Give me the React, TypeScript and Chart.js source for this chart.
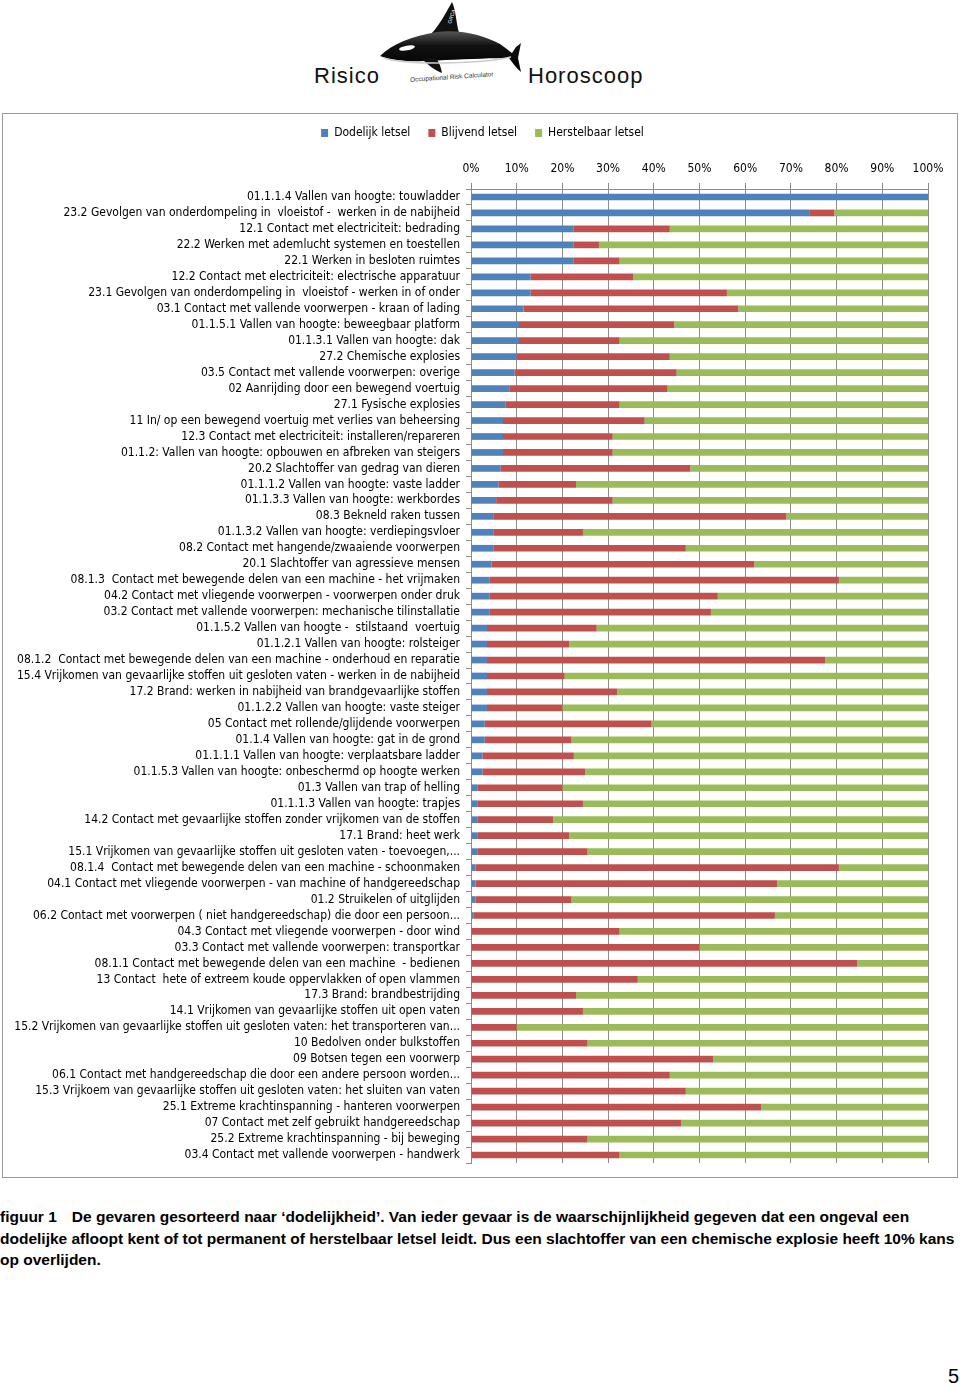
import React, { useEffect, useRef } from "react";
import { Chart, registerables } from "chart.js";
Chart.register(...registerables);

const categories = [
  "01.1.1.4 Vallen van hoogte: touwladder",
  "23.2 Gevolgen van onderdompeling in  vloeistof -  werken in de nabijheid",
  "12.1 Contact met electriciteit: bedrading",
  "22.2 Werken met ademlucht systemen en toestellen",
  "22.1 Werken in besloten ruimtes",
  "12.2 Contact met electriciteit: electrische apparatuur",
  "23.1 Gevolgen van onderdompeling in  vloeistof - werken in of onder",
  "03.1 Contact met vallende voorwerpen - kraan of lading",
  "01.1.5.1 Vallen van hoogte: beweegbaar platform",
  "01.1.3.1 Vallen van hoogte: dak",
  "27.2 Chemische explosies",
  "03.5 Contact met vallende voorwerpen: overige",
  "02 Aanrijding door een bewegend voertuig",
  "27.1 Fysische explosies",
  "11 In/ op een bewegend voertuig met verlies van beheersing",
  "12.3 Contact met electriciteit: installeren/repareren",
  "01.1.2: Vallen van hoogte: opbouwen en afbreken van steigers",
  "20.2 Slachtoffer van gedrag van dieren",
  "01.1.1.2 Vallen van hoogte: vaste ladder",
  "01.1.3.3 Vallen van hoogte: werkbordes",
  "08.3 Bekneld raken tussen",
  "01.1.3.2 Vallen van hoogte: verdiepingsvloer",
  "08.2 Contact met hangende/zwaaiende voorwerpen",
  "20.1 Slachtoffer van agressieve mensen",
  "08.1.3  Contact met bewegende delen van een machine - het vrijmaken",
  "04.2 Contact met vliegende voorwerpen - voorwerpen onder druk",
  "03.2 Contact met vallende voorwerpen: mechanische tilinstallatie",
  "01.1.5.2 Vallen van hoogte -  stilstaand  voertuig",
  "01.1.2.1 Vallen van hoogte: rolsteiger",
  "08.1.2  Contact met bewegende delen van een machine - onderhoud en reparatie",
  "15.4 Vrijkomen van gevaarlijke stoffen uit gesloten vaten - werken in de nabijheid",
  "17.2 Brand: werken in nabijheid van brandgevaarlijke stoffen",
  "01.1.2.2 Vallen van hoogte: vaste steiger",
  "05 Contact met rollende/glijdende voorwerpen",
  "01.1.4 Vallen van hoogte: gat in de grond",
  "01.1.1.1 Vallen van hoogte: verplaatsbare ladder",
  "01.1.5.3 Vallen van hoogte: onbeschermd op hoogte werken",
  "01.3 Vallen van trap of helling",
  "01.1.1.3 Vallen van hoogte: trapjes",
  "14.2 Contact met gevaarlijke stoffen zonder vrijkomen van de stoffen",
  "17.1 Brand: heet werk",
  "15.1 Vrijkomen van gevaarlijke stoffen uit gesloten vaten - toevoegen,...",
  "08.1.4  Contact met bewegende delen van een machine - schoonmaken",
  "04.1 Contact met vliegende voorwerpen - van machine of handgereedschap",
  "01.2 Struikelen of uitglijden",
  "06.2 Contact met voorwerpen ( niet handgereedschap) die door een persoon...",
  "04.3 Contact met vliegende voorwerpen - door wind",
  "03.3 Contact met vallende voorwerpen: transportkar",
  "08.1.1 Contact met bewegende delen van een machine  - bedienen",
  "13 Contact  hete of extreem koude oppervlakken of open vlammen",
  "17.3 Brand: brandbestrijding",
  "14.1 Vrijkomen van gevaarlijke stoffen uit open vaten",
  "15.2 Vrijkomen van gevaarlijke stoffen uit gesloten vaten: het transporteren van...",
  "10 Bedolven onder bulkstoffen",
  "09 Botsen tegen een voorwerp",
  "06.1 Contact met handgereedschap die door een andere persoon worden...",
  "15.3 Vrijkoem van gevaarlijke stoffen uit gesloten vaten: het sluiten van vaten",
  "25.1 Extreme krachtinspanning - hanteren voorwerpen",
  "07 Contact met zelf gebruikt handgereedschap",
  "25.2 Extreme krachtinspanning - bij beweging",
  "03.4 Contact met vallende voorwerpen - handwerk",
];

const dodelijk = [
  100, 74, 22.5, 22.5, 22.5, 13, 13, 11.5, 10.5, 10.5,
  10, 9.5, 8.5, 7.5, 7, 7, 7, 6.5, 6, 5.5,
  5, 5, 5, 4.5, 4, 4, 4, 3.5, 3.5, 3.5,
  3.5, 3.5, 3.5, 3, 3, 2.5, 2.5, 1.5, 1.5, 1.5,
  1.5, 1.5, 1, 1, 1, 0.5, 0, 0, 0, 0,
  0, 0, 0, 0, 0, 0, 0, 0, 0, 0,
  0,
];

const blijvend = [
  0, 5.5, 21, 5.5, 10, 22.5, 43, 47, 34, 22,
  33.5, 35.5, 34.5, 25, 31, 24, 24, 41.5, 17, 25.5,
  64, 19.5, 42, 57.5, 76.5, 50, 48.5, 24, 18, 74,
  17, 28.5, 16.5, 36.5, 19, 20, 22.5, 18.5, 23, 16.5,
  20, 24, 79.5, 66, 21, 66, 32.5, 50, 84.5, 36.5,
  23, 24.5, 10, 25.5, 53, 43.5, 47, 63.5, 46, 25.5,
  32.5,
];

const herstelbaar = [
  0, 20.5, 56.5, 72, 67.5, 64.5, 44, 41.5, 55.5, 67.5,
  56.5, 55, 57, 67.5, 62, 69, 69, 52, 77, 69,
  31, 75.5, 53, 38, 19.5, 46, 47.5, 72.5, 78.5, 22.5,
  79.5, 68, 80, 60.5, 78, 77.5, 75, 80, 75.5, 82,
  78.5, 74.5, 19.5, 33, 78, 33.5, 67.5, 50, 15.5, 63.5,
  77, 75.5, 90, 74.5, 47, 56.5, 53, 36.5, 54, 74.5,
  67.5,
];

const seriesNames = ["Dodelijk letsel", "Blijvend letsel", "Herstelbaar letsel"];
const seriesColors = ["#4F81BD", "#C0504D", "#9BBB59"];
const xTickLabels = ["0%", "10%", "20%", "30%", "40%", "50%", "60%", "70%", "80%", "90%", "100%"];

const NARROW = "'Liberation Sans Narrow', 'DejaVu Sans Condensed', 'Liberation Sans', sans-serif";
const SANS = "'Liberation Sans', Arial, sans-serif";

const legendShift = {
  id: "legendShift",
  afterLayout(chart: any) {
    const l = chart.legend;
    if (l) {
      l.left += 17;
      l.right += 17;
    }
  },
};

function BarChart() {
  const ref = useRef<HTMLCanvasElement | null>(null);
  useEffect(() => {
    if (!ref.current) return;
    const font = { family: NARROW, size: 12 };
    const chart = new Chart(ref.current, {
      type: "bar",
      data: {
        labels: categories,
        datasets: [dodelijk, blijvend, herstelbaar].map((d, i) => ({
          label: seriesNames[i],
          data: d,
          backgroundColor: seriesColors[i],
          borderWidth: 0,
          barPercentage: 0.42,
          categoryPercentage: 1,
        })),
      },
      plugins: [legendShift],
      options: {
        animation: false,
        responsive: false,
        maintainAspectRatio: false,
        indexAxis: "y",
        layout: { padding: { top: -5, right: 29, bottom: 14, left: 0 } },
        plugins: {
          legend: {
            position: "top",
            labels: { boxWidth: 7, boxHeight: 8, padding: 18, color: "#000", font },
          },
          tooltip: { enabled: false },
        },
        scales: {
          x: {
            type: "linear",
            position: "top",
            stacked: true,
            min: 0,
            max: 100,
            ticks: {
              stepSize: 10,
              color: "#000",
              font,
              padding: 7,
              maxRotation: 0,
              callback: (_v: any, i: number) => xTickLabels[i],
            },
            grid: { color: "#8c8c8c", tickLength: 6, lineWidth: 1 },
            border: { color: "#8c8c8c" },
            afterFit: (s: any) => {
              s.height = 40;
            },
          },
          y: {
            type: "category",
            stacked: true,
            ticks: { autoSkip: false, color: "#000", font, padding: 6 },
            grid: { drawOnChartArea: false, offset: true, tickLength: 5, color: "#8c8c8c" },
            border: { color: "#8c8c8c" },
            afterFit: (s: any) => {
              s.width = 468;
            },
          },
        },
      } as any,
    });
    return () => chart.destroy();
  }, []);
  return <canvas ref={ref} width={954} height={1063} style={{ display: "block" }} />;
}

function Orca() {
  return (
    <svg width={960} height={100} style={{ position: "absolute", left: 0, top: 0 }}>
      <defs>
        <linearGradient id="orcaBack" x1="0" y1="0" x2="0" y2="1">
          <stop offset="0" stopColor="#555" />
          <stop offset="0.35" stopColor="#111" />
          <stop offset="1" stopColor="#000" />
        </linearGradient>
      </defs>
      <path d="M431,34 C440,25 446,12 452,2 C456,10 456,22 459,33 Z" fill="#111" />
      <text x={0} y={0} fontSize={5} fontFamily={SANS} fill="#fff" transform="translate(451 24) rotate(-72)">
        ORCA
      </text>
      <path
        d="M380,56 C392,44 412,36 437,32 C462,29 485,36 500,44 C506,48 510,52 512,53 L516,47 C518,45 520,44 521,43 L518,58 L521,72 C516,68 512,62 509,58 C495,58 470,59 445,60 C420,62 395,62 380,56 Z"
        fill="url(#orcaBack)"
      />
      <path d="M421,58 C427,64 434,70 442,73 C441,67 439,62 436,58 Z" fill="#111" />
      <ellipse cx={407} cy={48} rx={8} ry={2.4} transform="rotate(-10 407 48)" fill="#fff" />
      <path d="M384,58 C400,63 430,64 470,62 C490,61 503,59 511,57" stroke="#ccc" strokeWidth={1.5} fill="none" />
      <text x={410} y={79} fontSize={6.5} fontFamily={SANS} fill="#333" transform="rotate(-4 452 76)">
        Occupational Risk Calculator
      </text>
    </svg>
  );
}

const captionLine: React.CSSProperties = {
  whiteSpace: "nowrap",
  height: 21.5,
};

export default function App() {
  return (
    <div style={{ position: "absolute", left: 0, top: 0, width: 960, height: 1386, background: "#fff", overflow: "hidden" }}>
      <Orca />
      <div style={{ position: "absolute", left: 314, top: 65, fontFamily: SANS, fontSize: 22, lineHeight: "22px", letterSpacing: 1, color: "#111" }}>
        Risico
      </div>
      <div style={{ position: "absolute", left: 528, top: 65, fontFamily: SANS, fontSize: 22, lineHeight: "22px", letterSpacing: 1, color: "#111" }}>
        Horoscoop
      </div>
      <div
        style={{
          position: "absolute",
          left: 2,
          top: 113,
          width: 954,
          height: 1063,
          border: "1px solid #9a9a9a",
          background: "#fff",
        }}
      >
        <BarChart />
      </div>
      <div style={{ position: "absolute", left: 0, top: 1206, fontFamily: SANS, fontWeight: "bold", fontSize: 15.5, lineHeight: "21.5px", color: "#000", width: 1100 }}>
        <div style={captionLine}>
          figuur 1<span style={{ display: "inline-block", width: 15 }} />De gevaren gesorteerd naar ‘dodelijkheid’. Van ieder gevaar is de waarschijnlijkheid gegeven dat een ongeval een
        </div>
        <div style={captionLine}>
          dodelijke afloopt kent of tot permanent of herstelbaar letsel leidt. Dus een slachtoffer van een chemische explosie heeft 10% kans
        </div>
        <div style={captionLine}>op overlijden.</div>
      </div>
      <div style={{ position: "absolute", left: 948, top: 1366, fontFamily: SANS, fontSize: 20, lineHeight: "20px", color: "#000" }}>5</div>
    </div>
  );
}
